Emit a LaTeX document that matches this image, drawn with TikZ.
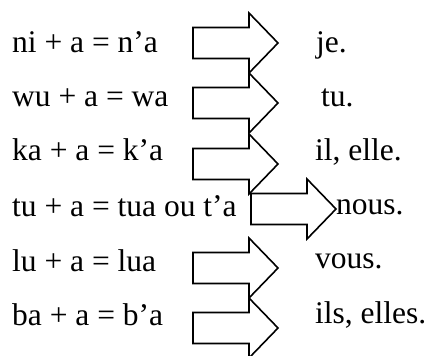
\documentclass[tikz,border=0pt]{standalone}
\usepackage{fontspec}
\setmainfont{Liberation Serif}
\tikzset{
  txt/.style={anchor=base west, inner sep=0pt, font=\fontsize{31.5}{36}\selectfont},
  fatarrow/.pic={
    \draw[line width=1.6pt, fill=white, line join=miter]
      (0,-15.5) -- (56,-15.5) -- (56,-30) -- (85,0) -- (56,30) -- (56,15.5) -- (0,15.5) -- cycle;
  }
}
\begin{document}
\begin{tikzpicture}[x=1pt,y=-1pt]
\useasboundingbox (0,0) rectangle (431,356);
% arrows
\pic at (193,43) {fatarrow};
\pic at (193,103) {fatarrow};
\pic at (193,164) {fatarrow};
\pic at (193,268) {fatarrow};
\pic at (193,328) {fatarrow};
\pic at (251,209) {fatarrow};
% left texts
\node[txt] (l1) at (12,52) {ni + a = n’a};
\node[txt] (l2) at (12,106) {wu + a = wa};
\node[txt] (l3) at (12,160) {ka + a = k’a};
\node[txt] (l4) at (12,216) {tu + a = tua ou t’a};
\node[txt] (l5) at (12,271) {lu + a = lua};
\node[txt] (l6) at (12,325) {ba + a = b’a};
% right texts
\node[txt] (r1) at (316,52) {je.};
\node[txt] (r2) at (321,106) {tu.};
\node[txt] (r3) at (315,160) {il, elle.};
\node[txt] (r4) at (336,214) {nous.};
\node[txt] (r5) at (315,268) {vous.};
\node[txt] (r6) at (315,323) {ils, elles.};
\end{tikzpicture}
\end{document}
